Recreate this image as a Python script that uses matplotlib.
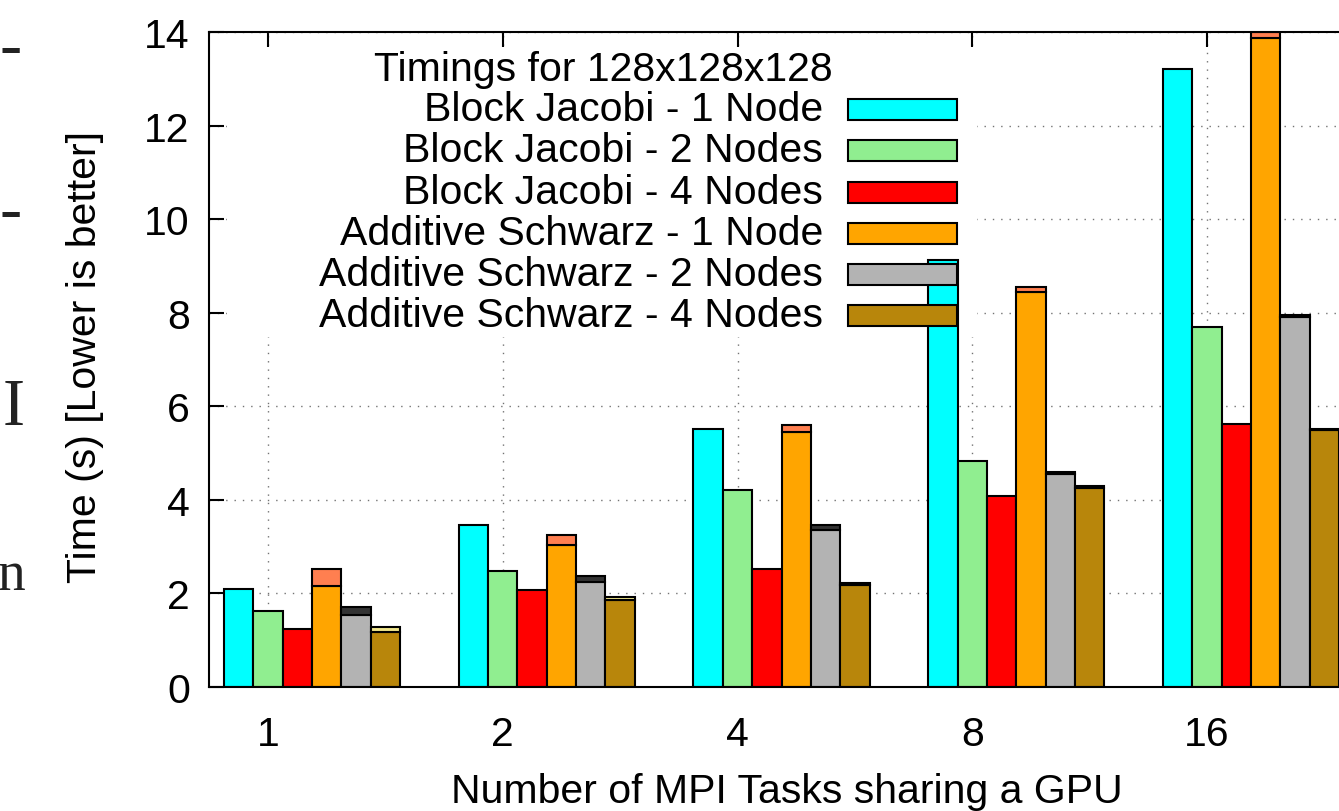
import numpy as np
import matplotlib
matplotlib.use('Agg')
import matplotlib.pyplot as plt
from matplotlib.patches import Rectangle

W, H = 1339, 812

# data
tasks = ['1', '2', '4', '8', '16']
labels = ['Block Jacobi - 1 Node', 'Block Jacobi - 2 Nodes', 'Block Jacobi - 4 Nodes',
          'Additive Schwarz - 1 Node', 'Additive Schwarz - 2 Nodes', 'Additive Schwarz - 4 Nodes']
bj_1node = [2.10, 3.47, 5.51, 9.13, 13.20]
bj_2nodes = [1.63, 2.47, 4.22, 4.84, 7.70]
bj_4nodes = [1.25, 2.08, 2.52, 4.08, 5.62]
as_1node = [2.15, 3.04, 5.44, 8.45, 13.88]
as_2nodes = [1.54, 2.25, 3.36, 4.55, 7.90]
as_4nodes = [1.18, 1.86, 2.17, 4.25, 5.49]
# extra part stacked on top of the Additive Schwarz bars
as_1node_extra = [0.37, 0.21, 0.16, 0.10, 0.12]
as_2nodes_extra = [0.18, 0.13, 0.10, 0.05, 0.05]
as_4nodes_extra = [0.11, 0.07, 0.05, 0.04, 0.03]

colors = ['#00ffff', '#90ee90', '#ff0000', '#ffa500', '#b3b3b3', '#b8860b']
top_colors = ['#ff7f50', '#333333', '#f0e68c']

plt.rcParams['font.family'] = ['Liberation Sans', 'DejaVu Sans']
FS = 29.5


def px(x, y):
    return x / W, 1 - y / H


fig = plt.figure(figsize=(W / 100, H / 100), dpi=100)
unit = 234.75
left_px = 268 - 0.25 * unit
ax = fig.add_axes([left_px / W, (H - 688) / H, 5 * unit / W, 655 / H])

series = [bj_1node, bj_2nodes, bj_4nodes, as_1node, as_2nodes, as_4nodes]
extras = {3: as_1node_extra, 4: as_2nodes_extra, 5: as_4nodes_extra}
x = np.arange(len(tasks))
bw = 0.125
for j, vals in enumerate(series):
    xs = x + (j - 1) * bw
    ax.bar(xs, vals, width=bw, color=colors[j], edgecolor='black', linewidth=1.5, zorder=2)
    if j in extras:
        ax.bar(xs, extras[j], bottom=vals, width=bw, color=top_colors[j - 3],
               edgecolor='black', linewidth=1.5, zorder=2)

ax.set_xlim(-0.25, 4.75)
ax.set_ylim(0, 14)
ax.set_xticks(x)
ax.set_xticklabels(tasks)
ax.set_yticks(np.arange(0, 15, 2))
ax.set_axisbelow(True)
ax.grid(True, color='0.45', linestyle=(0, (1, 5)), linewidth=1.0)
ax.tick_params(direction='in', length=11, width=1.5, top=True, right=True, labelsize=FS)
ax.tick_params(axis='y', pad=14)
ax.tick_params(axis='x', pad=20)
for s in ax.spines.values():
    s.set_linewidth(1.5)

# key area hides the grid behind it
x0, y0 = px(227, 338)
x1, y1 = px(977, 50)
ax.add_patch(Rectangle((x0, y0), x1 - x0, y1 - y0, transform=fig.transFigure,
                       facecolor='white', edgecolor='none', zorder=0.8))

# key
fig.text(*px(833, 70), 'Timings for 128x128x128', ha='right', va='center', fontsize=FS)
rows = [110, 151.5, 193, 234, 275, 316]
for lab, c, ry in zip(labels, colors, rows):
    fig.text(*px(823, ry), lab, ha='right', va='center', fontsize=FS)
    rx, rb = px(848, ry + 10.5)
    fig.add_artist(Rectangle((rx, rb), 109 / W, 21 / H, transform=fig.transFigure,
                             facecolor=c, edgecolor='black', linewidth=1.5, zorder=3))

fig.text(*px(85, 357), 'Time (s) [Lower is better]', rotation=90, ha='center',
         va='center', fontsize=FS)
fig.text(*px(787, 792), 'Number of MPI Tasks sharing a GPU', ha='center', va='center',
         fontsize=FS)

# fragments of the surrounding page text at the left edge
for t, xr, yb, fs in [('-', 22, 66, 48), ('-', 22, 230, 48), ('I', 25, 425, 48),
                      ('n', 26, 590, 40)]:
    fig.text(*px(xr, yb), t, ha='right', va='baseline', fontsize=fs,
             family='Liberation Serif', color='#222222')

fig.savefig('out.png', dpi=100)
